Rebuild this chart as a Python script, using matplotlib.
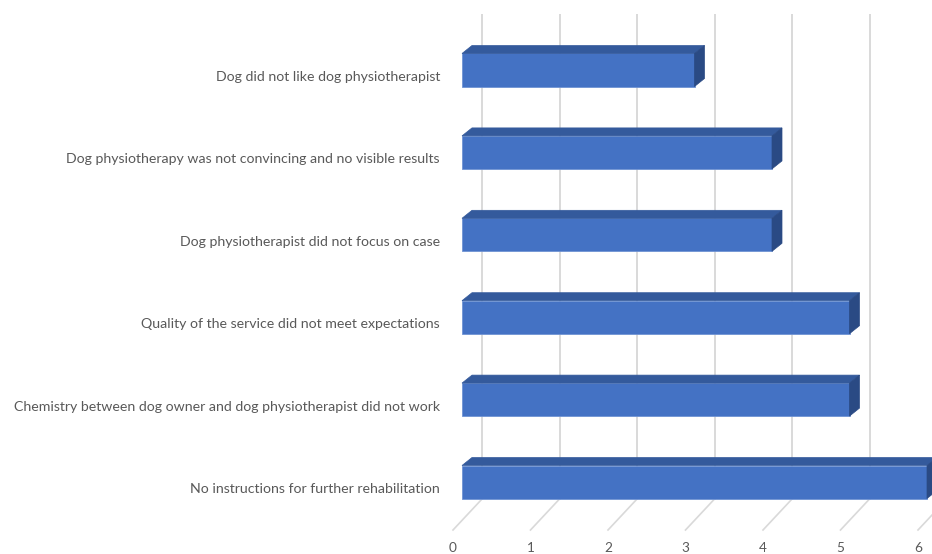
import matplotlib.pyplot as plt
from matplotlib.patches import Polygon

# reasons for stopping dog physiotherapy, listed bottom to top
reasons = [
    "No instructions for further rehabilitation",
    "Chemistry between dog owner and dog physiotherapist did not work",
    "Quality of the service did not meet expectations",
    "Dog physiotherapist did not focus on case",
    "Dog physiotherapy was not convincing and no visible results",
    "Dog did not like dog physiotherapist",
]
counts = [6, 5, 5, 4, 4, 3]
xticks = [0, 1, 2, 3, 4, 5, 6]

W, H = 932, 554
fig = plt.figure(figsize=(W / 100, H / 100), dpi=100)
fig.patch.set_facecolor("white")

# axes box in pixels: x 0..6 over 462..927, categories centred at 482 - 82.4*i
x0_px, unit_px = 462, 77.5
row_px = 82.4
ylo, yhi = -(499 - 482) / row_px, (482 - 15) / row_px
ax = fig.add_axes([x0_px / W, (H - 499) / H, 6 * unit_px / W, 484 / H])
ax.set_xlim(0, 6)
ax.set_ylim(ylo, yhi)
ax.axis("off")

dx = 1 / unit_px          # data units per pixel, horizontal
dy = 1 / row_px           # data units per pixel, vertical

grid_c = "#d9d9d9"
# back wall gridlines plus the slanted floor lines
for k in xticks:
    bx = k + 20 * dx
    ax.plot([bx, bx], [ylo, yhi], color=grid_c, lw=1.4, clip_on=False, zorder=0)
    ax.plot([bx, k - 9 * dx], [ylo, ylo - 31 * dy], color=grid_c, lw=1.2,
            clip_on=False, zorder=0)
    ax.text(k - 9 * dx, ylo - 49 * dy, str(k), ha="center", va="center",
            fontsize=9.8, color="#595959", family="Lato")

# 3D-looking bars: front face, top face and right side
h = 33 * dy
ox, oy = 10 * dx, 8 * dy
front_c, top_c, side_c = "#4472c4", "#345a9c", "#2a4a84"
for i, (lab, v) in enumerate(zip(reasons, counts)):
    b, t = i - h / 2, i + h / 2
    ax.barh(i, v, height=h, color=front_c, edgecolor="#6f93d3", lw=0.6,
            zorder=3, clip_on=False)
    ax.add_patch(Polygon([(0, t), (ox, t + oy), (v + ox, t + oy), (v, t)],
                         closed=True, facecolor=top_c, edgecolor=top_c,
                         lw=0.5, zorder=3, clip_on=False))
    ax.add_patch(Polygon([(v, b), (v, t), (v + ox, t + oy), (v + ox, b + oy)],
                         closed=True, facecolor=side_c, edgecolor=side_c,
                         lw=0.5, zorder=3, clip_on=False))
    ax.text(-22 * dx, i - 7 * dy, lab, ha="right", va="center",
            fontsize=10.2, color="#595959", family="Lato")

fig.savefig("out.png", dpi=100)
